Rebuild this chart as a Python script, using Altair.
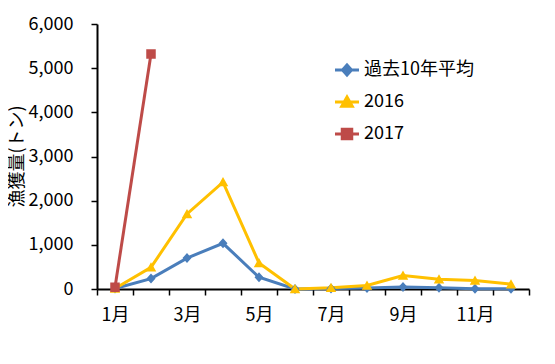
import altair as alt
import pandas as pd

months = list(range(1, 13))
series_names = ["過去10年平均", "2016", "2017"]
avg10 = [10, 235, 700, 1035, 265, 0, 10, 20, 45, 30, 5, 5]
y2016 = [10, 490, 1700, 2420, 590, 0, 30, 80, 305, 220, 190, 110]
y2017 = [40, 5320]
y_ticks = [0, 1000, 2000, 3000, 4000, 5000, 6000]

line_colors = ["#4A7EBB", "#FFC000", "#BE4B48"]
# marker shapes with a horizontal line segment (segment only visible when stroked)
shape_paths = [
    "M-2.4,0H2.4M0,-1L0.9,0L0,1L-0.9,0Z",
    "M-2.4,0H2.4M0,-1L1.05,0.85L-1.05,0.85Z",
    "M-2.4,0H2.4M-0.95,-0.95H0.95V0.95H-0.95Z",
]

rows = []
for name, vals in zip(series_names, [avg10, y2016, y2017]):
    for m, v in zip(months, vals):
        rows.append({"月": m, "系列": name, "漁獲量": v})
df = pd.DataFrame(rows)

FONT = "Noto Sans CJK JP"

x_enc = alt.X(
    "月:O",
    scale=alt.Scale(type="band", paddingInner=0, paddingOuter=0),
    axis=alt.Axis(
        title=None,
        labelExpr="datum.value % 2 == 1 ? datum.value + '月' : ''",
        labelAngle=0,
        labelOverlap=False,
        tickBand="extent",
        tickSize=6,
        tickWidth=1.5,
        tickColor="black",
        domainColor="black",
        domainWidth=2,
        labelPadding=11,
        labelFontSize=18,
        labelFont=FONT,
        labelColor="black",
    ),
)
y_enc = alt.Y(
    "漁獲量:Q",
    scale=alt.Scale(domain=[0, 6000], nice=False),
    axis=alt.Axis(
        title="漁獲量(トン)",
        values=y_ticks,
        format=",.0f",
        grid=False,
        tickSize=6,
        tickWidth=1.5,
        tickColor="black",
        domainColor="black",
        domainWidth=2,
        labelPadding=18,
        labelFontSize=18,
        labelFont=FONT,
        labelColor="black",
        titleFont=FONT,
        titleFontSize=18,
        titleFontWeight="normal",
        titleColor="black",
        titleX=-80,
        titleY=132,
        titleAngle=270,
        titleAlign="center",
        titleBaseline="middle",
    ),
)

legend = alt.Legend(
    title=None,
    orient="none",
    legendX=241,
    legendY=37,
    symbolSize=100,
    symbolStrokeWidth=3,
    labelFontSize=18,
    labelFont=FONT,
    labelColor="black",
    labelOffset=8,
    rowPadding=10,
)

color_scale = alt.Scale(domain=series_names, range=line_colors)

lines = alt.Chart(df).mark_line(strokeWidth=3).encode(
    x=x_enc,
    y=y_enc,
    color=alt.Color("系列:N", scale=color_scale, legend=legend),
    order=alt.Order("月:O"),
)

points = alt.Chart(df).mark_point(filled=True, size=100, strokeWidth=0, opacity=1).encode(
    x=x_enc,
    y=y_enc,
    color=alt.Color("系列:N", scale=color_scale, legend=legend),
    stroke=alt.Stroke("系列:N", scale=color_scale, legend=legend),
    shape=alt.Shape("系列:N", scale=alt.Scale(domain=series_names, range=shape_paths), legend=legend),
)

chart = (
    alt.layer(lines, points)
    .properties(
        width=432,
        height=265,
        autosize=alt.AutoSizeParams(type="none"),
        padding={"left": 89, "top": 16, "right": 18, "bottom": 67},
        background="white",
    )
    .configure_view(stroke=None)
)

chart.save("out.html", embed_options={"renderer": "svg", "actions": False})
